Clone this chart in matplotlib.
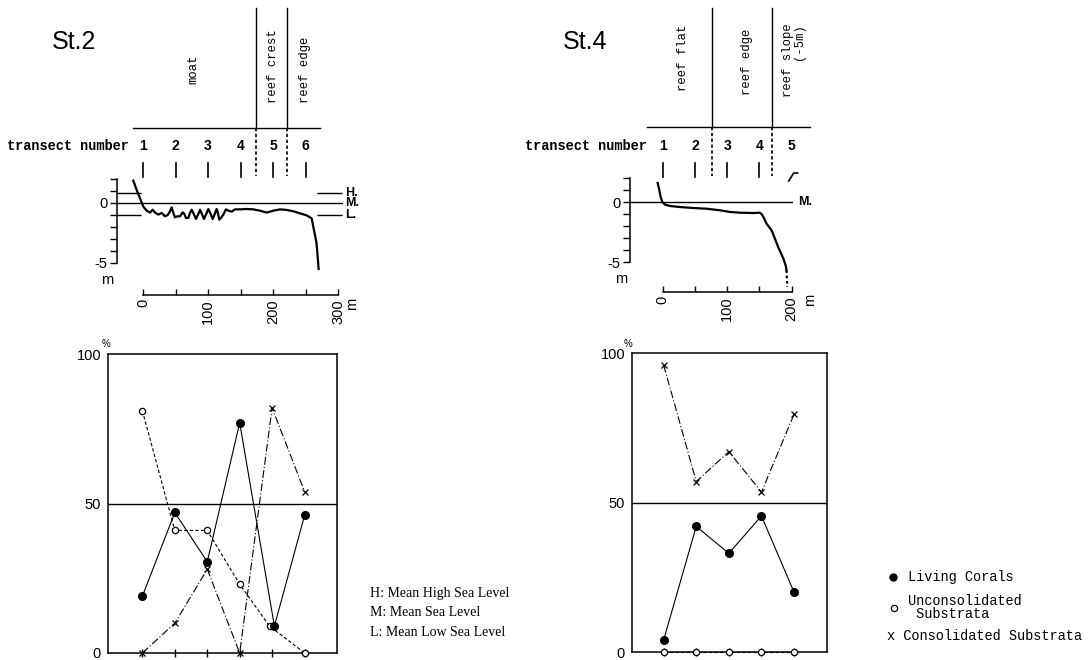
import matplotlib
matplotlib.use('Agg')
import matplotlib.pyplot as plt

# --- data ------------------------------------------------------------------
st2_transects = [1, 2, 3, 4, 5, 6]
st2_transect_m = [0, 50, 100, 150, 200, 250]
st2_zone_bounds_m = [174, 222]
st2_living = [19, 47, 30.5, 77, 9, 46]
st2_living_x = [1, 2, 3, 4, 5.07, 6]
st2_uncons = [81, 41, 41, 23, 9, 0]
st2_uncons_x = [1, 2, 3, 4, 4.92, 6]
st2_cons = [0, 10, 28, 0, 82, 54]

st4_transects = [1, 2, 3, 4, 5]
st4_transect_m = [0, 50, 100, 150, 200]
st4_zone_bounds_m = [76, 169.5]
st4_living = [4, 42, 33, 45.5, 20]
st4_uncons = [0, 0, 0, 0, 0]
st4_cons = [96, 57, 67, 53.5, 79.5]

# bottom profiles (distance m, height m relative to mean sea level)
st2_prof_x = [-14.9, -9.7, -3.6, 0.5, 5.6, 10.8, 14.9, 18.5, 23.6, 28.7, 33.8, 38, 41.5,
              44.1, 46.5, 49.2, 53, 57, 61, 63.5, 66.2, 69.7, 72.5, 74.9, 78, 81.5, 84.5,
              87.7, 90.5, 93.8, 97, 100.5, 104, 107.2, 110.5, 113.3, 115.5, 117.4, 120.5,
              123.6, 127.7, 131.3, 136.4, 141.5, 149.2, 159.5, 169.7, 180, 190.3, 200.5,
              210.8, 221, 231.3, 241.5, 251.8, 259.5, 262, 264.6, 267, 268.7, 270.2]
st2_prof_y = [1.86, 1.08, 0.25, -0.3, -0.64, -0.8, -0.56, -0.8, -0.97, -0.83, -1.11, -1.0, -0.7,
              -0.36, -0.8, -1.19, -1.11, -1.11, -0.78, -0.9, -1.25, -1.25, -0.8, -0.56, -0.9,
              -1.33, -1.0, -0.56, -0.9, -1.33, -0.95, -0.5, -0.9, -1.33, -0.9, -0.5, -0.9,
              -1.39, -1.2, -0.97, -0.53, -0.64, -0.72, -0.53, -0.53, -0.5, -0.53, -0.64,
              -0.8, -0.64, -0.53, -0.58, -0.69, -0.86, -1.03, -1.28, -1.97, -2.67, -3.36,
              -4.47, -5.5]
st4_prof_x = [-7.8, -5.2, -3.2, -0.6, 3.5, 11.2, 26.7, 47.4, 68, 88.7, 104.2, 119.7, 140.4,
              150.7, 154.9, 161, 168.8, 174, 179, 187, 190.6, 192]
st4_prof_y = [1.58, 0.97, 0.42, 0, -0.22, -0.33, -0.42, -0.5, -0.56, -0.69, -0.83, -0.89,
              -0.92, -0.89, -1.11, -1.8, -2.36, -3.06, -3.75, -4.7, -5.28, -5.69]
st4_prof_dot_x = [192, 192.4, 193.2]
st4_prof_dot_y = [-5.69, -6.2, -7.08]

sea_levels = {'H': 0.83, 'M': 0.0, 'L': -1.0}

MONO = 'Liberation Mono'
SANS = 'Liberation Sans'
SERIF = 'Liberation Serif'

W, H = 1090, 660
fig = plt.figure(figsize=(W / 100, H / 100), dpi=100)

# overlay in pixel coordinates for the zone headers and legends
ov = fig.add_axes([0, 0, 1, 1])
ov.set_xlim(0, W)
ov.set_ylim(H, 0)
ov.axis('off')


def px_axes(x0, y0, x1, y1):
    return fig.add_axes([x0 / W, 1 - y1 / H, (x1 - x0) / W, (y1 - y0) / H])


def profile_axes(left, right, zero_px, px_per_m, top, bottom, axis_px, xmax):
    ax = px_axes(left, top, right, bottom)
    ax.patch.set_alpha(0)
    ax.set_xlim((left - zero_px) / px_per_m, (right - zero_px) / px_per_m)
    ax.set_ylim(2 - (bottom - top) / 12, 2)
    ax.spines[['top', 'right']].set_visible(False)
    ax.spines['left'].set_bounds(-5, 2)
    ax.spines['bottom'].set_position(('data', 2 - (axis_px - top) / 12))
    ax.spines['bottom'].set_bounds(0, xmax)
    ax.set_yticks(range(-5, 3))
    ax.set_yticklabels(['-5' if v == -5 else ('0' if v == 0 else '') for v in range(-5, 3)],
                       fontsize=10.5, family=SANS)
    ax.set_xticks(range(0, xmax + 1, 50))
    ax.set_xticklabels([str(v) if v % 100 == 0 else '' for v in range(0, xmax + 1, 50)],
                       fontsize=10.5, family=SANS)
    ax.tick_params(axis='x', direction='in', length=4, labelrotation=90, pad=3, width=1)
    ax.tick_params(axis='y', direction='out', length=5, pad=2, width=1)
    for s in ['left', 'bottom']:
        ax.spines[s].set_linewidth(1.1)
    return ax


def header(tx0, title, line_x0, line_x1, line_y, zero_px, px_per_m, transect_m, bounds_m, nums):
    ov.text(tx0, 42, title, fontsize=18, family=SANS, ha='left', va='center')
    ov.plot([line_x0, line_x1], [line_y, line_y], color='k', lw=1)
    for b in bounds_m:
        xb = zero_px + b * px_per_m
        ov.plot([xb, xb], [8, line_y], color='k', lw=1)
        ov.plot([xb, xb], [line_y, 176], color='k', lw=1.2, ls=(0, (2, 1.5)))
    ov.text(tx0 - 45 if title == 'St.2' else tx0 - 38, 146, 'transect number', fontsize=9.8,
            family=MONO, fontweight='bold', ha='left', va='center')
    for n, m in zip(nums, transect_m):
        xp = zero_px + m * px_per_m
        ov.text(xp, 146, str(n), fontsize=10, family=SANS, fontweight='bold',
                ha='center', va='center')
    return [zero_px + m * px_per_m for m in transect_m]


def percent_axes(ax, xs_l, living, xs_u, uncons, xs_c, cons, xticks):
    ax.set_ylim(0, 100)
    ax.axhline(50, color='k', lw=1)
    ax.plot(xs_c, cons, color='k', lw=0.8, ls=(0, (7, 2, 1, 2)), marker='x',
            ms=4.5, mew=0.9, clip_on=False, zorder=3)
    ax.plot(xs_u, uncons, color='k', lw=0.8, ls=(0, (3, 2)), marker='o', ms=4.5,
            mfc='white', mew=0.9, clip_on=False, zorder=4)
    ax.plot(xs_l, living, color='k', lw=0.8, marker='o', ms=5.5, clip_on=False, zorder=5)
    ax.set_yticks([0, 50, 100])
    ax.set_yticklabels(['0', '50', '100'], fontsize=10.5, family=SANS)
    ax.set_xticks(xticks)
    ax.set_xticklabels([])
    ax.tick_params(axis='y', length=0, pad=5)
    ax.tick_params(axis='x', direction='inout', length=6, width=1)
    for s in ax.spines.values():
        s.set_linewidth(1.1)


# ---------------- St.2 ----------------
st2_zero, st2_ppm = 143, 0.65
x2 = header(52, 'St.2', 133, 320, 128, st2_zero, st2_ppm, st2_transect_m, st2_zone_bounds_m,
            st2_transects)
for xp in x2:
    ov.plot([xp, xp], [163, 177], color='k', lw=1.2)
ov.text(193, 69, 'moat', rotation=90, fontsize=8.8, family=MONO, ha='center', va='center')
ov.text(273, 66, 'reef crest', rotation=90, fontsize=8.8, family=MONO, ha='center', va='center')
ov.text(305, 70, 'reef edge', rotation=90, fontsize=8.8, family=MONO, ha='center', va='center')

p2 = profile_axes(117, 343, st2_zero, st2_ppm, 179, 300, 295, 300)
p2.axhline(sea_levels['M'], color='k', lw=1)
for key in ['H', 'L']:
    p2.hlines(sea_levels[key], (117 - st2_zero) / st2_ppm, (141 - st2_zero) / st2_ppm,
              color='k', lw=1)
    p2.hlines(sea_levels[key], (317 - st2_zero) / st2_ppm, (342 - st2_zero) / st2_ppm,
              color='k', lw=1, clip_on=False)
for key in ['H', 'M', 'L']:
    p2.text((345 - st2_zero) / st2_ppm, sea_levels[key], key + '.', fontsize=9,
            family=SANS, fontweight='bold', ha='left', va='center', clip_on=False)
p2.plot(st2_prof_x, st2_prof_y, color='k', lw=1.6, clip_on=False)
ov.text(107, 280, 'm', fontsize=10.5, family=SANS, ha='center', va='center')
ov.text(352, 304, 'm', fontsize=10.5, family=SANS, ha='center', va='center', rotation=90)

b2 = px_axes(108, 354, 337, 653)
b2.set_xlim(-0.06, 7.0)
percent_axes(b2, st2_living_x, st2_living, st2_uncons_x, st2_uncons, st2_transects, st2_cons,
             st2_transects)
ov.text(106, 344, '%', fontsize=7, family=SANS, ha='center', va='center')

for i, t in enumerate(['H: Mean High Sea Level', 'M: Mean Sea Level', 'L: Mean Low Sea Level']):
    ov.text(370, 593 + i * 19.5, t, fontsize=10, family=SERIF, ha='left', va='center')

# ---------------- St.4 ----------------
st4_zero, st4_ppm = 662.7, 0.645
x4 = header(563, 'St.4', 647, 810, 127, st4_zero, st4_ppm, st4_transect_m, st4_zone_bounds_m,
            st4_transects)
for xp in x4[:-1]:
    ov.plot([xp, xp], [163, 177], color='k', lw=1.2)
ov.plot([x4[-1] - 3, x4[-1] + 2, x4[-1] + 6], [181, 173, 173], color='k', lw=1.2)
ov.text(683, 58, 'reef flat', rotation=90, fontsize=8.8, family=MONO, ha='center', va='center')
ov.text(747, 62, 'reef edge', rotation=90, fontsize=8.8, family=MONO, ha='center', va='center')
ov.text(788, 23, 'reef slope', rotation=90, fontsize=8.8, family=MONO, ha='center', va='top')
ov.text(799, 23, '(-5m)', rotation=90, fontsize=8.8, family=MONO, ha='center', va='top')

p4 = profile_axes(630, 793, st4_zero, st4_ppm, 178, 300, 292, 200)
p4.axhline(sea_levels['M'], color='k', lw=1)
p4.text((798 - st4_zero) / st4_ppm, sea_levels['M'], 'M.', fontsize=9, family=SANS,
        fontweight='bold', ha='left', va='center', clip_on=False)
p4.plot(st4_prof_x, st4_prof_y, color='k', lw=1.6, clip_on=False)
p4.plot(st4_prof_dot_x, st4_prof_dot_y, color='k', lw=1.6, ls=(0, (1.2, 1.2)), clip_on=False)
ov.text(621, 279, 'm', fontsize=10.5, family=SANS, ha='center', va='center')
ov.text(810, 300, 'm', fontsize=10.5, family=SANS, ha='center', va='center', rotation=90)

b4 = px_axes(632, 353, 827, 652)
b4.set_xlim(0.03, 6.01)
percent_axes(b4, st4_transects, st4_living, st4_transects, st4_uncons, st4_transects, st4_cons,
             st4_transects)
ov.text(628, 344, '%', fontsize=7, family=SANS, ha='center', va='center')

# legend for the percentage series
ov.plot([893], [577], marker='o', color='k', ms=5)
ov.text(908, 577, 'Living Corals', fontsize=9.8, family=MONO, ha='left', va='center')
ov.plot([894], [608], marker='o', color='k', mfc='white', ms=4.5, mew=0.9)
ov.text(908, 601, 'Unconsolidated', fontsize=9.8, family=MONO, ha='left', va='center')
ov.text(908, 614, ' Substrata', fontsize=9.8, family=MONO, ha='left', va='center')
ov.text(887, 636, 'x Consolidated Substrata', fontsize=9.8, family=MONO, ha='left',
        va='center')

fig.savefig('out.png', dpi=100)
